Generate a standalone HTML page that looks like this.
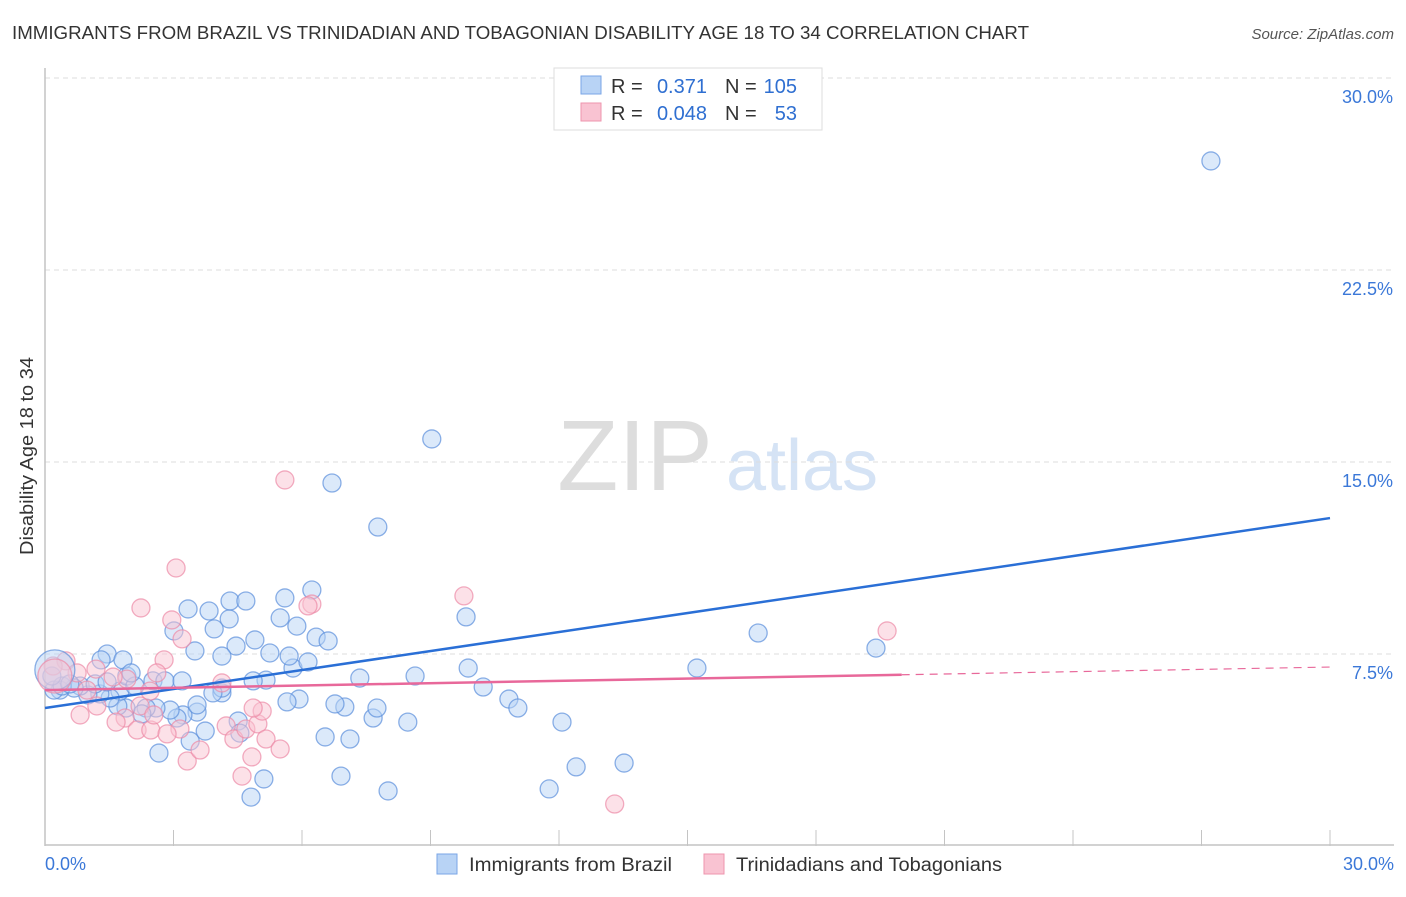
<!DOCTYPE html>
<html><head><meta charset="utf-8"><style>
body{margin:0;background:#fff;font-family:"Liberation Sans",sans-serif}
svg text{font-family:"Liberation Sans",sans-serif}
</style></head><body>
<svg id="chart" width="1406" height="892" xmlns="http://www.w3.org/2000/svg">
<text x="12" y="39" font-size="18" fill="#333" textLength="1017" lengthAdjust="spacingAndGlyphs">IMMIGRANTS FROM BRAZIL VS TRINIDADIAN AND TOBAGONIAN DISABILITY AGE 18 TO 34 CORRELATION CHART</text>
<text x="1394" y="39" font-size="15" fill="#555" text-anchor="end" font-style="italic">Source: ZipAtlas.com</text>
<g>
<text x="635" y="490" font-size="100" fill="#ddd" font-family="Liberation Serif" text-anchor="middle">ZIP</text>
<text x="802" y="490" font-size="72" fill="#d5e3f5" text-anchor="middle">atlas</text>
</g>
<g id="grid"></g>
<g id="axes"></g>
<g id="pts"></g>
<g id="lines"></g>
<text transform="translate(33,456) rotate(-90)" font-size="18" fill="#333" text-anchor="middle" textLength="198" lengthAdjust="spacingAndGlyphs">Disability Age 18 to 34</text>
<g>
<rect x="554" y="68" width="268" height="62" fill="#fff" stroke="#ddd"/>
<rect x="581" y="76" width="20" height="18" fill="#b8d3f5" stroke="#7aa6e6"/>
<rect x="581" y="103" width="20" height="18" fill="#f9c3d2" stroke="#ee94ae"/>
<text x="611" y="93" font-size="20" fill="#333">R =</text><text x="707" y="93" font-size="20" fill="#2f6fd1" text-anchor="end">0.371</text>
<text x="725" y="93" font-size="20" fill="#333">N =</text><text x="797" y="93" font-size="20" fill="#2f6fd1" text-anchor="end">105</text>
<text x="611" y="120" font-size="20" fill="#333">R =</text><text x="707" y="120" font-size="20" fill="#2f6fd1" text-anchor="end">0.048</text>
<text x="725" y="120" font-size="20" fill="#333">N =</text><text x="797" y="120" font-size="20" fill="#2f6fd1" text-anchor="end">53</text>
</g>
<g>
<rect x="437" y="854" width="20" height="20" fill="#b8d3f5" stroke="#7aa6e6"/>
<text x="469" y="871" font-size="19" fill="#333" textLength="203" lengthAdjust="spacingAndGlyphs">Immigrants from Brazil</text>
<rect x="704" y="854" width="20" height="20" fill="#f9c3d2" stroke="#ee94ae"/>
<text x="736" y="871" font-size="19" fill="#333" textLength="266" lengthAdjust="spacingAndGlyphs">Trinidadians and Tobagonians</text>
</g>
</svg>
<script>
const brazilX=[27.22,9.03,6.70,7.77,6.23,9.83,16.65,19.40,15.22,9.88,10.23,10.83,11.04,12.07,12.40,13.52,11.77,8.01,7.12,6.91,6.54,5.11,4.81,2.66,3.39,3.74,4.51,4.55,8.47,7.66,7.75,7.00,6.77,7.35,8.64,5.93,5.65,5.79,6.14,5.70,5.25,5.16,4.86,4.13,4.13,3.92,3.55,3.22,3.08,2.92,3.55,2.59,2.36,2.26,1.89,1.70,1.75,1.52,1.28,1.00,0.82,0.68,0.35,0.21,0.40,0.58,1.17,1.45,1.91,2.10,2.52,2.80,3.20,1.45,1.82,2.01,1.31,3.01,3.50,3.34,3.83,3.95,4.30,4.32,4.69,4.46,4.90,4.13,5.49,5.60,5.88,6.33,6.61,0.16];
const brazilY=[26.76,15.90,14.18,12.46,10.00,8.95,8.32,7.73,6.95,6.95,6.21,5.74,5.39,4.84,3.09,3.24,2.23,2.15,4.18,2.73,4.26,2.62,1.91,3.63,4.10,4.49,4.88,4.41,4.84,5.00,5.39,5.43,5.55,6.56,6.64,5.74,5.63,6.95,7.19,7.42,7.54,6.48,6.45,5.98,6.17,5.98,5.23,5.12,5.00,5.31,5.51,5.39,5.39,5.16,5.39,5.47,6.05,5.78,5.94,5.90,6.25,6.17,6.09,6.09,6.25,6.33,6.33,6.41,6.64,6.25,6.45,6.45,6.45,7.50,7.27,6.76,7.27,8.40,7.62,9.26,9.18,8.48,8.87,9.57,9.57,7.81,8.05,7.42,8.91,9.69,8.59,8.16,8.01,6.64];
const trinX=[5.60,3.06,9.78,6.23,2.24,19.66,2.96,3.20,2.78,2.61,1.91,1.19,0.49,0.19,0.75,1.59,0.98,2.45,4.13,2.22,1.21,0.82,1.87,1.66,2.15,2.47,2.54,3.15,2.85,3.32,3.62,4.23,4.41,4.69,4.97,5.07,4.86,5.16,5.49,4.83,4.60,13.30,6.14];
const trinY=[14.30,10.86,9.77,9.45,9.30,8.40,8.83,8.09,7.27,6.76,6.52,6.91,7.23,7.03,6.76,6.60,6.09,6.05,6.37,5.47,5.47,5.12,5.00,4.84,4.53,4.53,5.12,4.57,4.38,3.32,3.75,4.69,4.18,4.57,4.77,5.27,5.39,4.18,3.79,3.48,2.73,1.64,9.38];
const bigBrazil=[[0.23,6.88]];
const bigTrin=[[0.23,6.64]];
const brazilLine=[5.39,12.81];
const trinLine=[6.09,6.99];
const trinSolidEnd=20.0;
const yTicks=[7.5,15,22.5,30];
const xTickCount=10;

const NS='http://www.w3.org/2000/svg';
const sx=v=>45+v/30*1285, sy=v=>846-v/7.5*192;
function mk(tag,attrs,parent){const e=document.createElementNS(NS,tag);for(const k in attrs)e.setAttribute(k,attrs[k]);parent.appendChild(e);return e;}
const grid=document.getElementById('grid'),axes=document.getElementById('axes'),pts=document.getElementById('pts'),lines=document.getElementById('lines');
yTicks.forEach(t=>{
 const l=mk('line',{x1:45,x2:1394,y1:sy(t),y2:sy(t),stroke:'#ddd','stroke-dasharray':'5,4'},grid);
 
 
 const tx=mk('text',{x:1393,y:sy(t)+25,'font-size':18,fill:'#3b78d8','text-anchor':'end'},axes);
 tx.textContent=t.toFixed(1)+'%';
 
 
});
const ya=mk('line',{x1:45,x2:45,y1:68,y2:846,stroke:'#c4c4c4','stroke-width':1.5},axes);


const xa=mk('line',{x1:45,x2:1394,y1:845,y2:845,stroke:'#c4c4c4','stroke-width':1.5},axes);


for(let i=0;i<=xTickCount;i++){
 const x=sx(i*3);
 const tk=mk('line',{x1:x,x2:x,y1:830,y2:846,stroke:'#c4c4c4'},axes);
 
 
}
[[0,'start',45],[30,'end',1394]].forEach(([v,a,x])=>{
 const t=mk('text',{x:x,y:870,'font-size':18,fill:'#3b78d8','text-anchor':a},axes);
 t.textContent=v.toFixed(1)+'%';
 
 
});
function dot(x,y,r,fill,stroke,name){
 const c=mk('circle',{cx:sx(x),cy:sy(y),r:r,fill:fill,'fill-opacity':0.5,stroke:stroke,'stroke-opacity':0.7,'stroke-width':1.3},pts);
 
 
}
brazilX.forEach((x,i)=>dot(x,brazilY[i],9,'#b8d3f5','#5b8fdc','brazil-point'));
trinX.forEach((x,i)=>dot(x,trinY[i],9,'#f9c3d2','#ec8aa6','trinidad-point'));
bigBrazil.forEach(p=>dot(p[0],p[1],20,'#b8d3f5','#5b8fdc','brazil-point'));
bigTrin.forEach(p=>dot(p[0],p[1],17,'#f9c3d2','#ec8aa6','trinidad-point'));
const bl=mk('line',{x1:sx(0),y1:sy(brazilLine[0]),x2:sx(30),y2:sy(brazilLine[1]),stroke:'#2a6fd6','stroke-width':2.5},lines);


const ty=x=>trinLine[0]+(trinLine[1]-trinLine[0])*x/30;
const tl=mk('line',{x1:sx(0),y1:sy(ty(0)),x2:sx(trinSolidEnd),y2:sy(ty(trinSolidEnd)),stroke:'#e8689a','stroke-width':2.5},lines);


const td=mk('line',{x1:sx(trinSolidEnd),y1:sy(ty(trinSolidEnd)),x2:sx(30),y2:sy(ty(30)),stroke:'#e8689a','stroke-width':1.2,'stroke-dasharray':'8,6'},lines);


</script>
</body></html>
